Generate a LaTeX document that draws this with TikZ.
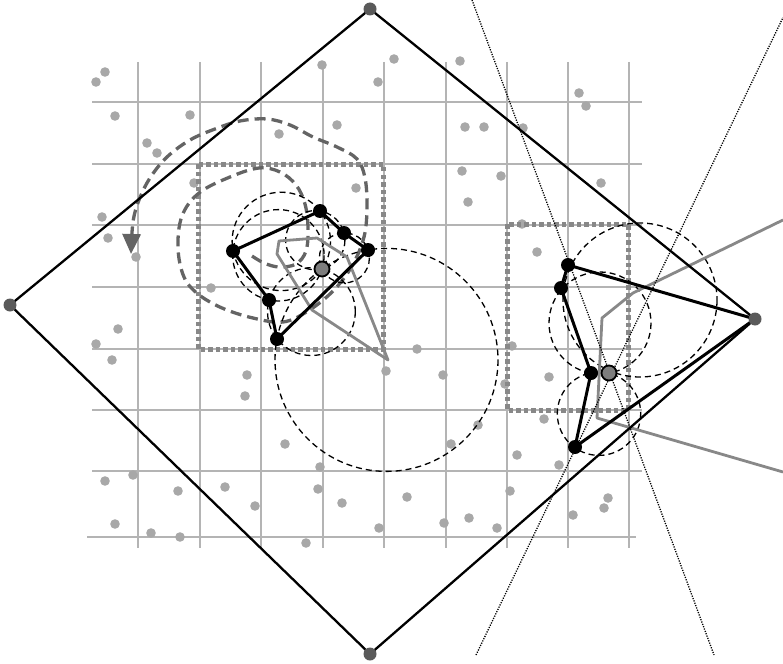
\documentclass[tikz,border=0pt]{standalone}
\usetikzlibrary{arrows.meta,backgrounds}
\definecolor{gridc}{RGB}{180,180,180}
\definecolor{dotc}{RGB}{168,168,168}
\definecolor{vtxc}{RGB}{90,90,90}
\definecolor{sqc}{RGB}{136,136,136}
\definecolor{spc}{RGB}{100,100,100}
\definecolor{polyc}{RGB}{136,136,136}
\definecolor{gnc}{RGB}{125,125,125}
\begin{document}
\begin{tikzpicture}[x=1pt,y=-1pt,
  gridline/.style={draw=gridc,line width=2pt},
  vtx/.style={circle,fill=vtxc,inner sep=0pt,minimum size=13pt},
  bn/.style={circle,fill=black,inner sep=0pt,minimum size=14pt},
  gn/.style={circle,fill=gnc,draw=black,line width=1.8pt,inner sep=0pt,minimum size=15pt},
  sqline/.style={draw=sqc,line width=5pt,dash pattern=on 4.5pt off 3pt},
  spiral/.style={draw=spc,line width=3.3pt,dash pattern=on 11pt off 6pt},
  circ/.style={draw=black,line width=1.3pt,dash pattern=on 6pt off 4pt},
  dotl/.style={draw=black,line width=1.3pt,dash pattern=on 1.2pt off 1.3pt},
  poly/.style={draw=black,line width=3pt,line join=round},
  dia/.style={draw=black,line width=2.3pt,line join=round},
  gpoly/.style={draw=polyc,line width=2.8pt,line join=round}]
\useasboundingbox (0,0) rectangle (783,663);
% nodes
\node[vtx] (vt) at (370,9) {};
\node[vtx] (vl) at (10,305) {};
\node[vtx] (vb) at (370,654) {};
\node[vtx] (vr) at (755,319) {};
\node[bn] (p1) at (320,211) {};
\node[bn] (p2) at (344,233) {};
\node[bn] (p3) at (368,250) {};
\node[bn] (p4) at (233,251) {};
\node[bn] (p5) at (269,300) {};
\node[bn] (p6) at (277,339) {};
\node[gn] (g) at (322,269) {};
\node[bn] (a) at (568,265) {};
\node[bn] (b) at (561,288) {};
\node[bn] (c) at (591,373) {};
\node[bn] (d) at (575,447) {};
\node[gn] (h) at (609,373) {};
\coordinate (l1s) at (472,0);
\coordinate (l1e) at (714,655);
\coordinate (l2s) at (476,655);
\coordinate (l2e) at (783,17.5);
\begin{scope}[on background layer]
% grid
\foreach \x in {138,200,261,323,384,446,507,568,629}
  \draw[gridline] (\x,62) -- (\x,548);
\foreach \y in {102,164,225,287,349,410,471}
  \draw[gridline] (92,\y) -- (642,\y);
\draw[gridline] (87,537) -- (636,537);
% sample points
\foreach \x/\y in {96/82,105/72,115/116,190/115,147/143,157/153,279/134,322/65,337/125,378/82,
  394/59,460/61,579/93,586/106,465/127,484/127,523/128,462/171,501/176,468/202,601/183,522/224,
  194/183,356/188,102/217,108/238,136/257,211/288,118/329,96/344,112/360,
  247/375,245/396,105/481,133/475,178/491,225/487,255/506,115/524,151/533,180/537,
  285/444,478/425,451/444,320/467,517/455,544/419,559/465,318/489,342/503,407/497,510/491,
  608/498,604/508,573/515,379/528,444/523,469/518,497/528,306/543,
  417/349,386/371,443/375,512/346,505/384,537/252,549/377}
  \fill[dotc] (\x,\y) circle[radius=4.8];
% dotted squares
\draw[sqline] (198,164) rectangle (383,349);
\draw[sqline] (507,224) rectangle (628,410);
% spiral walk
\draw[spiral,-{Triangle[length=20pt,width=18pt]}] plot[smooth,tension=0.6] coordinates {
  (252,256) (264,263) (279,267) (296,264) (306,251) (308,228) (305,204) (296,185) (280,172)
  (259,168) (230,177) (199,193) (182,216) (178,248) (184,277) (198,294) (222,308) (253,318)
  (283,322) (308,311) (333,291) (352,266) (364,237) (367,207) (365,178) (357,159) (337,147)
  (313,137) (290,125) (267,119) (240,121) (215,129) (190,140) (167,157) (150,178) (139,200)
  (133,222) (131,254)};
% circumcircles through the inserted points
\draw[circ] (281.3,241.4) circle[radius=49.2];
\draw[circ] (315.3,240.2) circle[radius=29.6];
\draw[circ] (344.4,257.9) circle[radius=25];
\draw[circ] (386.5,359.9) circle[radius=111.5];
\draw[circ] (311.4,311.6) circle[radius=43.9];
\draw[circ] (278.4,255.3) circle[radius=45.7];
\draw[circ] (640,300) circle[radius=77];
\draw[circ] (600,323) circle[radius=51];
\draw[circ] (599,413.7) circle[radius=41.7];
% gray cells
\draw[gpoly] (279,241) -- (317,238) -- (347,257) -- (388,360) -- (312,310) -- (277,254) -- cycle;
\draw[gpoly] (783,220) -- (633,293) -- (602,318) -- (597,418) -- (783,472);
% outer diamond
\draw[dia] (vt.center) -- (vr.center) -- (vb.center) -- (vl.center) -- cycle;
% cavities
\draw[poly] (p4.center) -- (p1.center) -- (p2.center) -- (p3.center) -- (p6.center) -- (p5.center) -- cycle;
\draw[poly] (a.center) -- (b.center) -- (c.center) -- (d.center) -- (vr.center) -- cycle;
% dotted lines
\draw[dotl] (l1s) -- (l1e);
\draw[dotl] (l2s) -- (l2e);
\end{scope}
\end{tikzpicture}
\end{document}
